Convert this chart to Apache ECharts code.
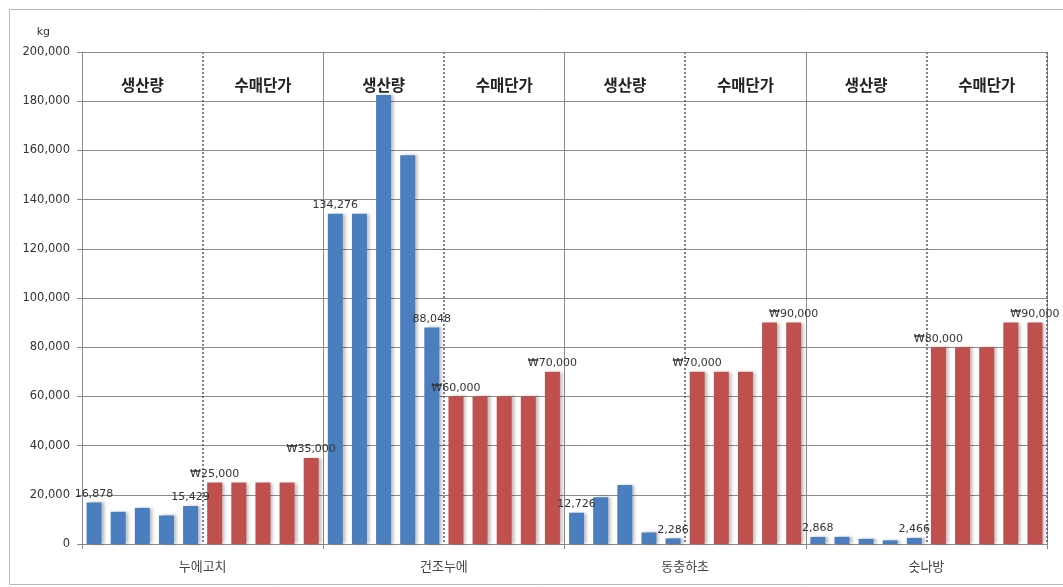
<!DOCTYPE html>
<html>
<head>
<meta charset="utf-8">
<script src="https://cdn.jsdelivr.net/npm/echarts@6/dist/echarts.min.js"></script>
<style>
  html, body { margin: 0; padding: 0; background: #fff; }
  #chart { width: 1063px; height: 587px; }
</style>
</head>
<body>
<div id="chart"></div>
<script>
// Products on the x axis; each holds five production bars and five price bars
const categories = ['누에고치', '건조누에', '동충하초', '숫나방'];
const headers = ['생산량', '수매단가'];

// Production (kg), five years per product
const production = [
  [16878, 13100, 14700, 11600, 15429],
  [134276, 134276, 182500, 158000, 88048],
  [12726, 19000, 24000, 4700, 2286],
  [2868, 2900, 2100, 1500, 2466]
];

// Purchase price (won), five years per product
const price = [
  [25000, 25000, 25000, 25000, 35000],
  [60000, 60000, 60000, 60000, 70000],
  [70000, 70000, 70000, 90000, 90000],
  [80000, 80000, 80000, 90000, 90000]
];

const yTicks = { min: 0, max: 200000, interval: 20000 };

// Lay out 40 slots: per product, 5 production slots then 5 price slots
const slots = [];
const prodData = [];
const priceData = [];
categories.forEach((c, ci) => {
  production[ci].forEach((v, i) => {
    slots.push(c + '-p' + i);
    prodData.push({ value: v, label: { show: i === 0 || i === 4 } });
    priceData.push(null);
  });
  price[ci].forEach((v, i) => {
    slots.push(c + '-w' + i);
    prodData.push(null);
    priceData.push({ value: v, label: { show: i === 0 || i === 4 } });
  });
});

const headerCats = [];
categories.forEach(() => headers.forEach(h => headerCats.push(h)));

const fmt = n => n.toLocaleString('en-US');
const gridColor = '#8a8a8a';
const barShadow = { shadowColor: 'rgba(0,0,0,0.25)', shadowOffsetX: 3, shadowOffsetY: 0, shadowBlur: 3 };
const valueLabel = {
  position: 'top', distance: 3,
  fontFamily: 'DejaVu Sans', fontSize: 11, color: '#333'
};

const chart = echarts.init(document.getElementById('chart'), null, { renderer: 'canvas' });
chart.setOption({
  animation: false,
  backgroundColor: '#fff',
  graphic: [{
    type: 'rect', left: 7, top: 7, z: -10,
    shape: { width: 1055, height: 575 },
    style: { fill: 'none', stroke: '#b8b8d4', lineWidth: 1 }
  }],
  grid: { left: 82, right: 16, top: 52, bottom: 43 },
  xAxis: [
    {
      type: 'category', data: slots, gridIndex: 0,
      axisLine: { show: false }, axisTick: { show: false },
      axisLabel: { show: false }, splitLine: { show: false }
    },
    {
      type: 'category', data: categories, position: 'bottom',
      axisLine: { show: true, lineStyle: { color: gridColor } },
      axisTick: { show: true, length: 5, lineStyle: { color: gridColor } },
      axisLabel: { margin: 16, fontFamily: 'Noto Sans CJK KR', fontSize: 13, color: '#444' },
      splitLine: { show: true, lineStyle: { color: gridColor, width: 1 } }
    },
    {
      type: 'category', data: headerCats, position: 'top',
      axisLine: { show: true, lineStyle: { color: gridColor } },
      axisTick: { show: false },
      axisLabel: {
        inside: true, margin: 25, interval: 0,
        fontFamily: 'Noto Sans CJK KR', fontSize: 15.5, fontWeight: 'bold', color: '#222'
      },
      splitLine: {
        show: true, interval: (idx) => idx % 2 === 1,
        lineStyle: { color: '#55558a', type: [2, 2], width: 1.5 }
      }
    }
  ],
  yAxis: {
    type: 'value', min: yTicks.min, max: yTicks.max, interval: yTicks.interval,
    name: 'kg', nameLocation: 'end', nameGap: 14,
    nameTextStyle: { fontFamily: 'DejaVu Sans', fontSize: 11, color: '#333', align: 'right', padding: [0, 32, 0, 0] },
    axisLine: { show: true, lineStyle: { color: gridColor } },
    axisTick: { show: true, length: 5, lineStyle: { color: gridColor } },
    axisLabel: { formatter: v => fmt(v), fontFamily: 'DejaVu Sans', fontSize: 11.5, color: '#333', margin: 12 },
    splitLine: { show: true, lineStyle: { color: gridColor, width: 1 } }
  },
  series: [
    {
      name: '생산량', type: 'bar', xAxisIndex: 0, data: prodData,
      barWidth: 15, barGap: '-100%',
      itemStyle: Object.assign({ color: '#4a7ebf' }, barShadow),
      label: Object.assign({ formatter: p => fmt(p.value) }, valueLabel),
      z: 3
    },
    {
      name: '수매단가', type: 'bar', xAxisIndex: 0, data: priceData,
      barWidth: 15, barGap: '-100%',
      itemStyle: Object.assign({ color: '#c0504d' }, barShadow),
      label: Object.assign({ formatter: p => '₩' + fmt(p.value) }, valueLabel),
      z: 3
    }
  ]
});
</script>
</body>
</html>
